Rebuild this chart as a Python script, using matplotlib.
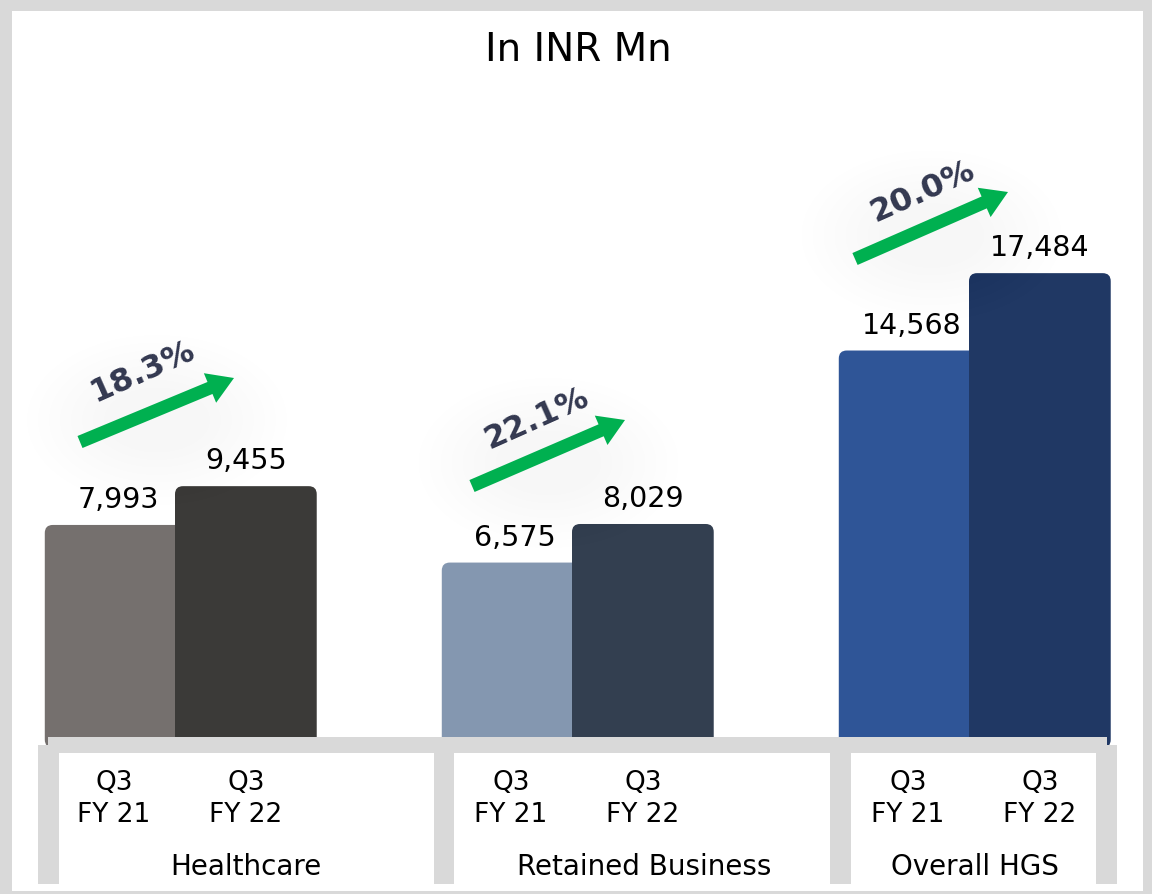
import math
import matplotlib
matplotlib.use("Agg")
import matplotlib.pyplot as plt
from matplotlib.patches import FancyBboxPatch, Rectangle, FancyArrow, Ellipse
from matplotlib.patches import BoxStyle
import matplotlib.transforms as mtransforms

# ---------------- data ----------------
categories = ["Healthcare", "Retained Business", "Overall HGS"]
period_labels = ["Q3\nFY 21", "Q3\nFY 22"]
values_fy21 = [7993, 6575, 14568]
values_fy22 = [9455, 8029, 17484]
title = "In INR Mn"

colors_fy21 = ["#75706E", "#8497B0", "#2F5597"]
colors_fy22 = ["#3B3A38", "#333F50", "#203864"]
BORDER = "#D9D9D9"
GREEN = "#00B050"
PCT_COLOR = "#333850"

W, H = 1152, 894
fig = plt.figure(figsize=(W / 100, H / 100), dpi=100)
fig.patch.set_facecolor("white")

# main data axes (fills figure)
ax = fig.add_axes([0, 0, 1, 1], zorder=1)
ax.axis("off")
px_per_x = 397.0
px_per_y = 0.02653
x0_px, y0_px = 175.0, 737.0
ax.set_xlim(-x0_px / px_per_x, (W - x0_px) / px_per_x)
ax.set_ylim(-(H - y0_px) / px_per_y, y0_px / px_per_y)

# decoration axes in pixel coords
deco = fig.add_axes([0, 0, 1, 1], zorder=2)
deco.set_xlim(0, W)
deco.set_ylim(H, 0)
deco.axis("off")
deco.patch.set_alpha(0)

w1, w2 = 0.328, 0.357
radius_px = 8.0
r_x = radius_px / px_per_x
aspect = (radius_px / px_per_y) / r_x
bottom = -400

groups = range(len(categories))
for i in groups:
    c = i
    b1 = FancyBboxPatch((c - w1, bottom), w1 + 0.05, values_fy21[i] - bottom,
                        boxstyle=BoxStyle.Round(pad=0, rounding_size=r_x),
                        mutation_aspect=aspect, facecolor=colors_fy21[i],
                        edgecolor="none", zorder=2)
    ax.add_patch(b1)
    b2 = FancyBboxPatch((c, bottom), w2, values_fy22[i] - bottom,
                        boxstyle=BoxStyle.Round(pad=0, rounding_size=r_x),
                        mutation_aspect=aspect, facecolor=colors_fy22[i],
                        edgecolor="none", zorder=3)
    ax.add_patch(b2)
    ax.annotate(f"{values_fy21[i]:,}", (c - w1 / 2, values_fy21[i]),
                xytext=(6, 18), textcoords="offset points", ha="center", va="center",
                fontsize=20.5, color="black", family="DejaVu Sans", zorder=5)
    ax.annotate(f"{values_fy22[i]:,}", (c + w2 / 2, values_fy22[i]),
                xytext=(0, 18), textcoords="offset points", ha="center", va="center",
                fontsize=20.5, color="black", family="DejaVu Sans", zorder=5)

# ---------------- bottom "table" ----------------
deco.add_patch(Rectangle((48, 737), 1107 - 48, 16, facecolor=BORDER, edgecolor="none"))
for xa, xb in [(38, 59), (434, 454), (830, 851), (1096, 1117)]:
    deco.add_patch(Rectangle((xa, 745), xb - xa, 884 - 745, facecolor=BORDER, edgecolor="none"))

blend = mtransforms.blended_transform_factory(ax.transData, deco.transData)
for i in groups:
    ax.text(i - w1 / 2 + 0.01, 799, period_labels[0], transform=blend, ha="center", va="center",
            fontsize=19, family="DejaVu Sans", linespacing=1.3, color="black")
    ax.text(i + w2 / 2, 799, period_labels[1], transform=blend, ha="center", va="center",
            fontsize=19, family="DejaVu Sans", linespacing=1.3, color="black")

cat_centers_px = [246, 644, 975]
for name, cx in zip(categories, cat_centers_px):
    deco.text(cx, 867, name, ha="center", va="center", fontsize=20, family="DejaVu Sans",
              color="black")

# ---------------- growth arrows ----------------
arrows = [((80, 442), (234, 378), (143, 372)),
          ((472, 486), (625, 420), (537, 419)),
          ((855, 259), (1008, 192), (923, 192))]
for i, ((tx, ty), (hx, hy), (lx, ly)) in enumerate(arrows):
    mx, my = (tx + hx) / 2, (ty + hy) / 2 + 10
    for k in range(8):
        deco.add_patch(Ellipse((mx, my), 260 - k * 22, 170 - k * 15, facecolor="#000000",
                               alpha=0.0035, edgecolor="none", zorder=0.5))
    dx, dy = hx - tx, hy - ty
    deco.add_patch(FancyArrow(tx, ty, dx, dy, width=13, head_width=32, head_length=26,
                              length_includes_head=True, facecolor=GREEN, edgecolor="none",
                              zorder=3))
    growth = (values_fy22[i] / values_fy21[i] - 1) * 100
    deco.text(lx, ly, f"{growth:.1f}%", ha="center", va="center", rotation=24,
              rotation_mode="anchor", fontsize=23, fontweight="bold",
              family="DejaVu Sans", color=PCT_COLOR, zorder=4)

# ---------------- title & frame ----------------
deco.text(578, 50, title, ha="center", va="center", fontsize=28, family="DejaVu Sans",
          color="black")

deco.add_patch(Rectangle((0, 0), W, 11, facecolor=BORDER, edgecolor="none", zorder=6))
deco.add_patch(Rectangle((0, 0), 12, H, facecolor=BORDER, edgecolor="none", zorder=6))
deco.add_patch(Rectangle((1143, 0), W - 1143, H, facecolor=BORDER, edgecolor="none", zorder=6))
deco.add_patch(Rectangle((0, 891), W, 3, facecolor=BORDER, edgecolor="none", zorder=6))

fig.savefig("out.png", dpi=100, facecolor="white")
